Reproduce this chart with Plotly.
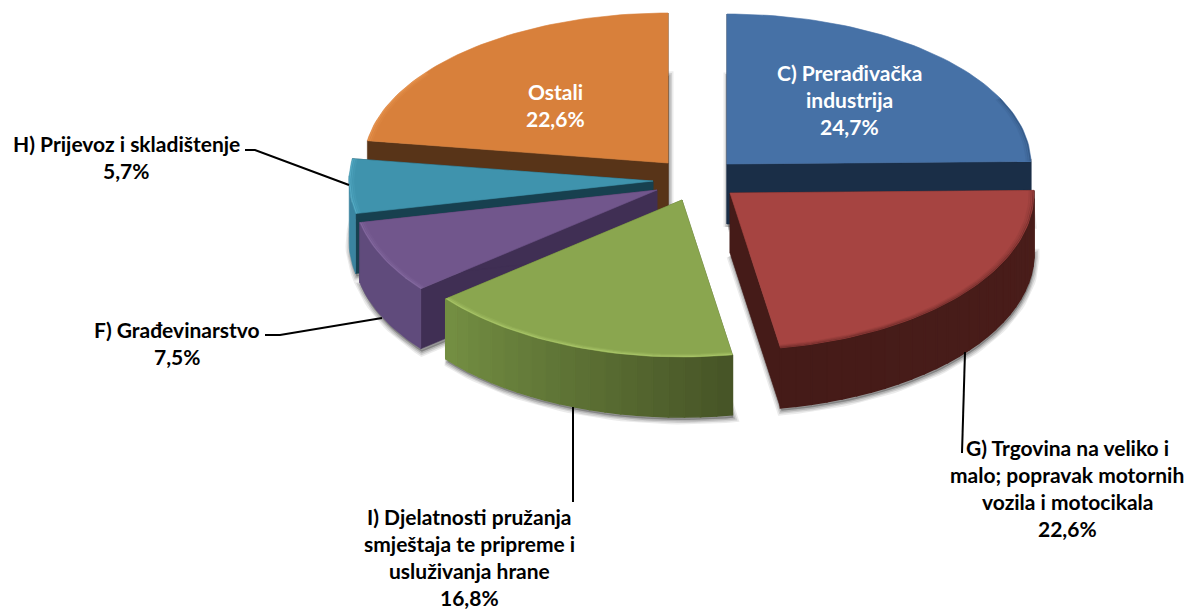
import math
import plotly.graph_objects as go

# ---------- data ----------
categories = ["C) Prerađivačka industrija",
              "G) Trgovina na veliko i malo; popravak motornih vozila i motocikala",
              "I) Djelatnosti pružanja smještaja te pripreme i usluživanja hrane",
              "F) Građevinarstvo", "H) Prijevoz i skladištenje", "Ostali"]
values = [24.7, 22.6, 16.8, 7.5, 5.7, 22.6]
pct_labels = ["24,7%", "22,6%", "16,8%", "7,5%", "5,7%", "22,6%"]

# ---------- style / projection ----------
CX, CY = 668, 179
RX = 304
RY_BACK, RY_FRONT = 150, 157
DEPTH = 60
shift = [(59, -15), (62, 14), (14, 21), (-11, 11), (-15, 2), (0, -16)]
top_col = ["#4671A6", "#A64441", "#8AA64F", "#71568C", "#3F93AD", "#D8803B"]
rim_col = ["#2F5079", "#6E2C2A", "#B2CF70", "#8A70A6", "#5DB4CE", "#EC9A55"]
wall_a = ["#1A2E47", "#4A1D1A", "#748F43", "#604B7C", "#3A84A0", "#583418"]
wall_b = ["#1A2E47", "#451B18", "#465426", "#604B7C", "#3A84A0", "#583418"]
cut_col = ["#1A2E47", "#451B18", "#4E5E2C", "#402F54", "#17404F", "#583418"]
rim_frac = [(0.72, 1.0), (0.0, 1.0), (0.0, 1.0), (0.0, 1.0), (0.0, 1.0), (0.0, 0.35)]
draw_order = [5, 0, 4, 3, 1, 2]


def hex2rgb(h):
    return tuple(int(h[i:i + 2], 16) for i in (1, 3, 5))


def mix(a, b, t):
    a, b = hex2rgb(a), hex2rgb(b)
    return "rgb(%d,%d,%d)" % tuple(round(a[i] + (b[i] - a[i]) * t) for i in range(3))


def pt(i, deg, r=1.0, dz=0):
    th = math.radians(deg)
    ry = RY_BACK if math.cos(th) > 0 else RY_FRONT
    return (CX + shift[i][0] + r * RX * math.sin(th),
            CY + shift[i][1] - r * ry * math.cos(th) + dz)


def arc(i, a0, a1, r=1.0, dz=0, n=None):
    n = n or max(2, int(abs(a1 - a0) / 1.5))
    return [pt(i, a0 + (a1 - a0) * k / n, r, dz) for k in range(n + 1)]


total = sum(values)
bounds, acc = [], 0.0
for v in values:
    bounds.append((acc * 360 / total, (acc + v) * 360 / total))
    acc += v

fig = go.Figure()


def poly(points, fill, line=None, lw=0.6):
    fig.add_trace(go.Scatter(
        x=[p[0] for p in points] + [points[0][0]],
        y=[p[1] for p in points] + [points[0][1]],
        mode="lines", fill="toself", fillcolor=fill,
        line=dict(color=line or fill, width=lw), hoverinfo="skip", showlegend=False))


def stroke(points, color, w, opacity=1.0):
    fig.add_trace(go.Scatter(
        x=[p[0] for p in points], y=[p[1] for p in points], mode="lines",
        line=dict(color=color, width=w), opacity=opacity,
        hoverinfo="skip", showlegend=False))


# soft shadows of the bottom faces
for i, (a0, a1) in enumerate(bounds):
    base = [(CX + shift[i][0] + 1, CY + shift[i][1] + DEPTH + 3)] + \
           [(x + 1, y) for x, y in arc(i, a0, a1, dz=DEPTH + 3)]
    for w, al in [(9, .10), (6, .14), (3, .2)]:
        poly(base, "rgba(60,60,60,%.2f)" % al, "rgba(60,60,60,%.2f)" % al, w)

for i in draw_order:
    a0, a1 = bounds[i]
    apex = (CX + shift[i][0], CY + shift[i][1])
    # radial cut walls
    for ang in (a0, a1):
        e = pt(i, ang)
        poly([apex, e, (e[0], e[1] + DEPTH), (apex[0], apex[1] + DEPTH)], cut_col[i])
    # outer wall: a single swept polygon when flat, bands when shaded
    v0, v1 = max(a0, 88), min(a1, 272)
    if v1 > v0:
        if wall_a[i] == wall_b[i]:
            up = arc(i, v0, v1)
            poly(up + [(x, y + DEPTH) for x, y in reversed(up)], wall_a[i])
        else:
            n = max(2, int((v1 - v0) / 3))
            for k in range(n):
                s0 = v0 + (v1 - v0) * k / n
                s1 = v0 + (v1 - v0) * (k + 1) / n
                t = (k + .5) / n
                if i == 2:
                    t = 1 - t
                c = mix(wall_a[i], wall_b[i], t)
                pa, pb = pt(i, s0), pt(i, s1)
                poly([pa, pb, (pb[0], pb[1] + DEPTH), (pa[0], pa[1] + DEPTH)], c, c, 1.6)
    # top face
    poly([apex] + arc(i, a0, a1), top_col[i])
    # bevelled rim
    f0, f1 = rim_frac[i]
    r0, r1 = a0 + (a1 - a0) * f0, a0 + (a1 - a0) * f1
    for r, w, op in [(0.997, 1.2, .7), (0.991, 1.4, .35), (0.985, 1.6, .15)]:
        stroke(arc(i, r0, r1, r), rim_col[i], w, op)

# ---------- leader lines ----------
leader_x = [[245, 255, 349], [265, 280, 382], [965, 962], [573, 573]]
leader_y = [[150, 150, 185], [335, 335, 318], [352, 453], [407, 502]]
for lx, ly in zip(leader_x, leader_y):
    fig.add_trace(go.Scatter(x=lx, y=ly, mode="lines", line=dict(color="#000000", width=2),
                             hoverinfo="skip", showlegend=False))

# ---------- labels ----------
label_lines = [["C) Prerađivačka", "industrija", pct_labels[0]],
               ["G) Trgovina na veliko i", "malo; popravak motornih", "vozila i motocikala", pct_labels[1]],
               ["I) Djelatnosti pružanja", "smještaja te pripreme i", "usluživanja hrane", pct_labels[2]],
               ["F) Građevinarstvo", pct_labels[3]],
               ["H) Prijevoz i skladištenje", pct_labels[4]],
               ["Ostali", pct_labels[5]]]
label_x = [849, 1067, 469, 177, 126, 555]
label_y0 = [72, 447, 516, 329, 143, 91]
label_c = ["white", "black", "black", "black", "black", "white"]
LINE = 27.3
for lines, x, y0, col in zip(label_lines, label_x, label_y0, label_c):
    for k, s in enumerate(lines):
        fig.add_annotation(x=x, y=y0 + k * LINE, text=s, showarrow=False, xanchor="center",
                           yanchor="middle", font=dict(family="Lato", size=21, color=col,
                                                       weight="bold"))

fig.update_layout(width=1189, height=613, margin=dict(l=0, r=0, t=0, b=0),
                  paper_bgcolor="white", plot_bgcolor="white", showlegend=False,
                  xaxis=dict(range=[0, 1189], visible=False, fixedrange=True),
                  yaxis=dict(range=[613, 0], visible=False, fixedrange=True))
fig.write_html("out.html", config={"displayModeBar": False},
               post_script="document.body.style.margin='0';document.documentElement.style.overflow='hidden';")
